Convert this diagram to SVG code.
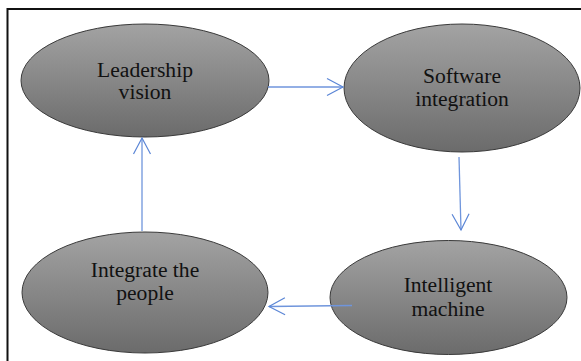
<svg xmlns="http://www.w3.org/2000/svg" width="581" height="361" viewBox="0 0 581 361">
<defs>
<linearGradient id="g" x1="0" y1="0" x2="0" y2="1">
<stop offset="0" stop-color="#a3a3a3"/>
<stop offset="1" stop-color="#6b6b6b"/>
</linearGradient>
<marker id="ah" markerWidth="20" markerHeight="20" viewBox="-17 -10 20 20" refX="0" refY="0" orient="auto" markerUnits="userSpaceOnUse">
<path d="M-16,-8.5 L0,0 L-16,8.5" fill="none" stroke="#5b86d6" stroke-width="1.2"/>
</marker>
</defs>
<style>
.n ellipse{fill:url(#g);stroke:#3a3a3a;stroke-width:1}
.n text{font-size:21.6px;fill:#111;text-anchor:middle}
.c line{stroke:#6f95dc;stroke-width:1.3;marker-end:url(#ah)}
</style>
<rect width="581" height="361" fill="#fff"/>
<rect x="7.5" y="9" width="600" height="400" fill="none" stroke="#111" stroke-width="2"/>
<g font-family="'Liberation Serif', 'DejaVu Serif', serif">
<g id="leadership" class="n">
<ellipse cx="145" cy="80.5" rx="124" ry="56.5"/>
<text x="145" y="77">Leadership</text>
<text x="145" y="99">vision</text>
</g>
<g id="software" class="n">
<ellipse cx="462" cy="88" rx="118" ry="64"/>
<text x="462" y="83">Software</text>
<text x="462" y="106">integration</text>
</g>
<g id="intelligent" class="n">
<ellipse cx="448.5" cy="297.5" rx="118.5" ry="57"/>
<text x="448" y="292">Intelligent</text>
<text x="448" y="316">machine</text>
</g>
<g id="integrate" class="n">
<ellipse cx="145" cy="292.5" rx="123" ry="60.5"/>
<text x="145" y="277">Integrate the</text>
<text x="145" y="300">people</text>
</g>
</g>
<g id="connectors" class="c">
<line x1="268" y1="87" x2="343" y2="87"/>
<line x1="459" y1="157" x2="461" y2="230"/>
<line x1="352" y1="305.5" x2="269" y2="306.5"/>
<line x1="142" y1="231" x2="142" y2="138"/>
</g>
</svg>
